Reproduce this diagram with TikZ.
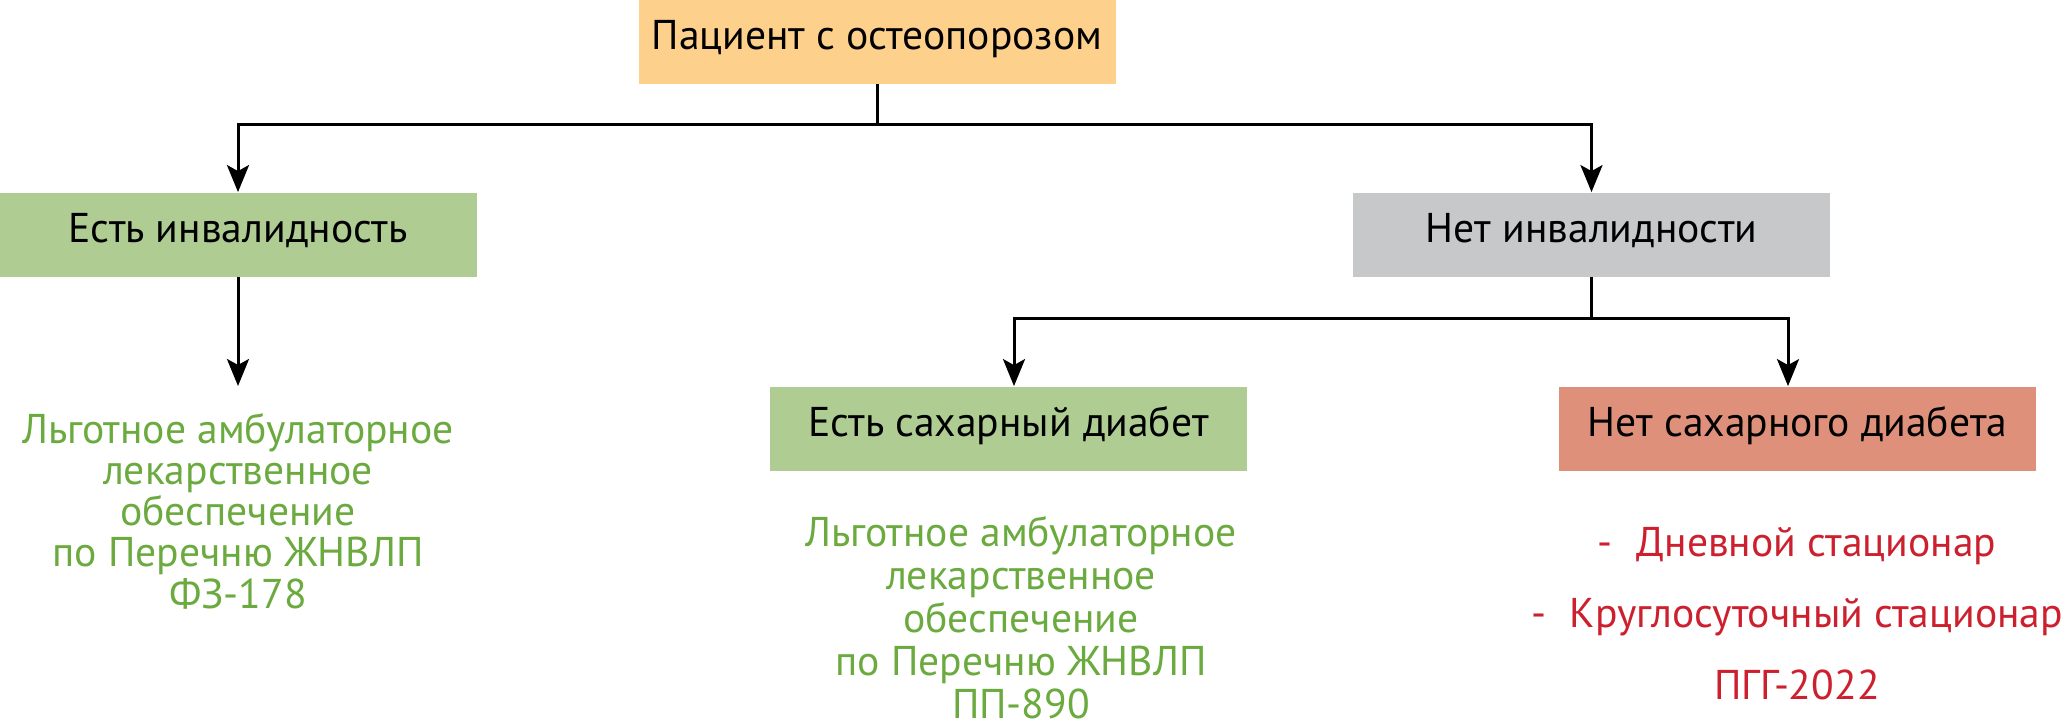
\documentclass[tikz,border=0pt]{standalone}
\usepackage{fontspec}
\setmainfont{PT Sans}
\usetikzlibrary{arrows.meta}
\definecolor{cOrange}{HTML}{FDD08C}
\definecolor{cGreenBox}{HTML}{AFCD93}
\definecolor{cGray}{HTML}{C7C8CA}
\definecolor{cRedBox}{HTML}{DF907B}
\definecolor{cGreenTxt}{HTML}{6BAA3E}
\definecolor{cRedTxt}{HTML}{CC202E}
\tikzset{
  boxnode/.style={minimum width=238.5pt, minimum height=42pt, inner sep=0pt,
    text height=0.78em, text depth=0pt, font=\fontsize{20.8}{24}\selectfont},
  conn/.style={line width=1.5pt, black},
  arr/.style={conn, -{Stealth[length=13.5pt,width=11pt,inset=3pt]}},
  note/.style={inner sep=0pt, align=center, anchor=base}
}
\begin{document}
\begin{tikzpicture}[x=0.5pt,y=-0.5pt]
\useasboundingbox (0,0) rectangle (2067,728);
\node[boxnode, fill=cOrange] (top) at (877,42) {Пациент с остеопорозом};
\node[boxnode, fill=cGreenBox] (lbox) at (238,234.5) {Есть инвалидность};
\node[boxnode, fill=cGray] (gbox) at (1591.5,234.5) {Нет инвалидности};
\node[boxnode, fill=cGreenBox] (dbox) at (1008.5,428.5) {Есть сахарный диабет};
\node[boxnode, fill=cRedBox] (rbox) at (1797.5,428.5) {Нет сахарного диабета};

\coordinate (j1) at (877,124);
\coordinate (j2) at (1591.5,318);
\coordinate (ltip) at (238,386);

\draw[conn] (top.south) -- (j1);
\draw[arr] (j1) -| (lbox.north);
\draw[arr] (j1) -| (gbox.north);
\draw[arr] (lbox.south) -- (ltip);
\draw[conn] (gbox.south) -- (j2);
\draw[arr] (j2) -| ([xshift=2.75pt]dbox.north);
\draw[arr] (j2) -| ([xshift=-4.75pt]rbox.north);

\node[note, text=cGreenTxt, font=\fontsize{20.8}{20.6}\selectfont] (ltext) at (238,608)
  {Льготное амбулаторное\\лекарственное\\обеспечение\\по Перечню ЖНВЛП\\ФЗ-178};
\node[note, text=cGreenTxt, font=\fontsize{20.8}{21.4}\selectfont] (dtext) at (1021,718)
  {Льготное амбулаторное\\лекарственное\\обеспечение\\по Перечню ЖНВЛП\\ПП-890};
\node[note, text=cRedTxt, font=\fontsize{20.8}{35.75}\selectfont] (rtext) at (1797,699)
  {-\hspace{12pt}Дневной стационар\\-\hspace{12pt}Круглосуточный стационар\\ПГГ-2022};
\end{tikzpicture}
\end{document}
